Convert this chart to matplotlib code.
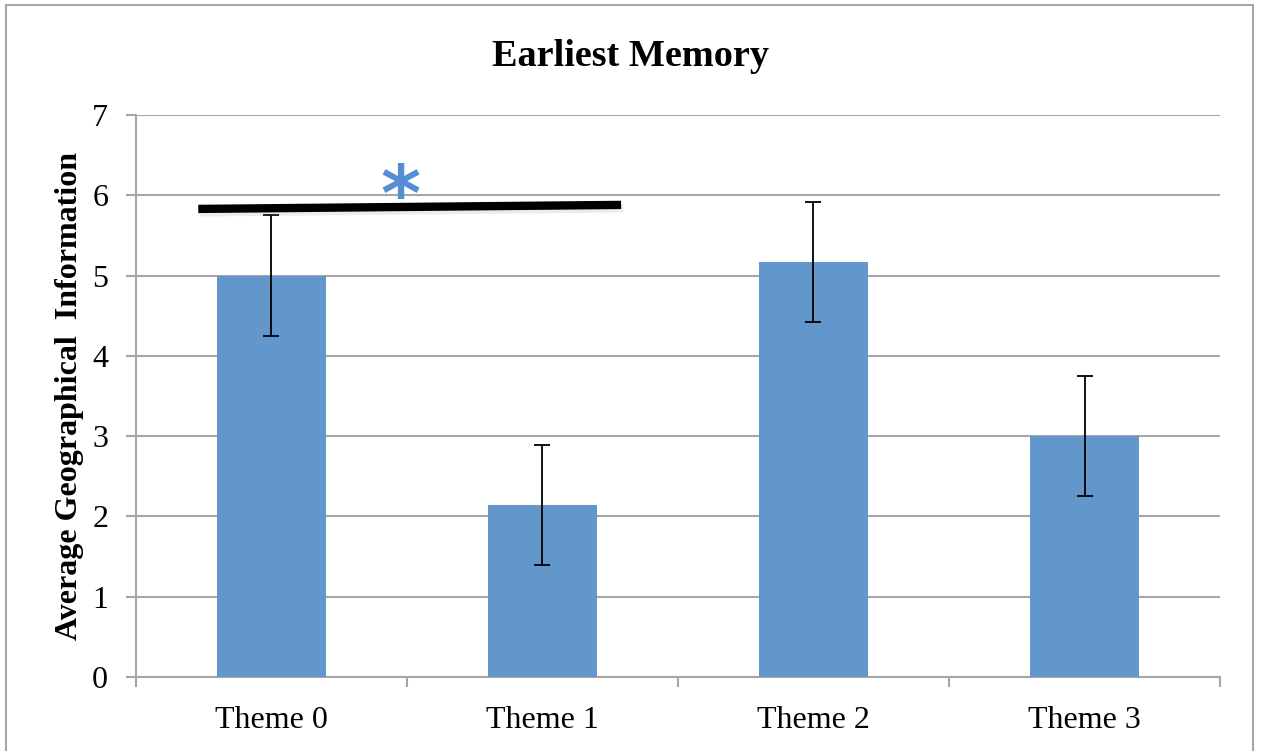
import numpy as np
import matplotlib.pyplot as plt
import matplotlib.patheffects as pe
from matplotlib.patches import Rectangle

# Werte
themen = ['Theme 0', 'Theme 1', 'Theme 2', 'Theme 3']
mittelwerte = [5.0, 2.14, 5.17, 3.0]
fehler = [0.75, 0.75, 0.75, 0.75]

# Signifikanzlinie (Theme 0 -> Theme 1) und Stern
sig_x = [-0.27, 1.29]
sig_y = [5.83, 5.88]
stern_pos = (0.476, 5.95)

plt.rcParams['font.family'] = ['Liberation Serif', 'DejaVu Serif']

fig = plt.figure(figsize=(12.61, 7.51), dpi=100)
ax = fig.add_axes([0.1078, 0.0985, 0.8597, 0.7484])

grau = '#A6A6A6'
x = np.arange(len(themen))
ax.bar(x, mittelwerte, width=0.4, color='#6397CB', zorder=3)
ax.errorbar(x, mittelwerte, yerr=fehler, fmt='none', ecolor='black',
            elinewidth=1.3, capsize=5.8, capthick=1.3, zorder=4)

ax.plot(sig_x, sig_y, color='black', linewidth=6, solid_capstyle='butt', zorder=5,
        path_effects=[pe.SimpleLineShadow(offset=(1.5, -2.5), alpha=0.15, shadow_color='gray'),
                      pe.Normal()])
ax.text(stern_pos[0], stern_pos[1], '*', color='#558ED5', fontsize=55, fontweight='bold',
        ha='center', va='center', family='DejaVu Sans', zorder=6)

ax.set_xlim(-0.5, len(themen) - 0.5)
ax.set_ylim(0, 7)
ax.set_yticks(range(0, 8))
ax.set_xticks(x)
ax.set_xticklabels(themen)
ax.set_xticks(np.arange(-0.5, len(themen)), minor=True)
ax.tick_params(axis='x', which='major', length=0, labelsize=23, pad=21)
ax.tick_params(axis='x', which='minor', length=7, width=1.5, color=grau, direction='out')
ax.tick_params(axis='y', length=7, width=1.5, color=grau, labelsize=23, pad=13)

ax.yaxis.grid(True, color=grau, linewidth=1.5, zorder=0)
ax.set_axisbelow(True)
for s in ['top', 'right']:
    ax.spines[s].set_visible(False)
for s in ['left', 'bottom']:
    ax.spines[s].set_color(grau)
    ax.spines[s].set_linewidth(1.5)

ax.set_ylabel('Average Geographical  Information', fontsize=23, fontweight='bold', labelpad=6)
fig.text(0.5, 1 - 57 / 751, 'Earliest Memory', ha='center', va='center',
         fontsize=27.5, fontweight='bold')

# Rahmen um das Diagramm
fig.patches.append(Rectangle((6 / 1261, -0.02), 1247 / 1261, 1.02 - 5 / 751,
                             transform=fig.transFigure, fill=False,
                             edgecolor=grau, linewidth=1.5))

fig.savefig('out.png', dpi=100)
